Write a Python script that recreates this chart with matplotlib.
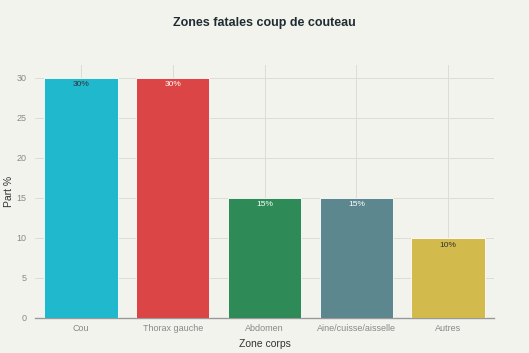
import matplotlib
matplotlib.use('Agg')
import matplotlib.pyplot as plt

zones = ['Cou', 'Thorax gauche', 'Abdomen', 'Aine/cuisse/aisselle', 'Autres']
parts = [30, 30, 15, 15, 10]
labels = ['30%', '30%', '15%', '15%', '10%']
colors = ['#1FB8CD', '#DB4545', '#2E8B57', '#5D878F', '#D2BA4C']
label_colors = ['#333333', 'white', 'white', 'white', '#333333']

bg = '#F3F3EE'
plt.rcParams['font.family'] = ['Liberation Sans', 'DejaVu Sans']

fig = plt.figure(figsize=(5.29, 3.53), dpi=100, facecolor=bg)
ax = fig.add_axes([0.0662, 0.0992, 0.8678, 0.7168], facecolor=bg)

x = range(len(zones))
ax.bar(x, parts, width=0.8, color=colors, edgecolor='white', linewidth=0.6, zorder=3)
for i, v in enumerate(parts):
    ax.text(i, v - 0.45, labels[i], ha='center', va='top', fontsize=6,
            color=label_colors[i], zorder=4)

ax.set_xlim(-0.5, len(zones) - 0.5)
ax.set_ylim(0, 31.6)
ax.set_yticks([0, 5, 10, 15, 20, 25, 30])
ax.set_xticks(list(x))
ax.set_xticklabels(zones)
ax.tick_params(axis='both', labelsize=6.5, colors='#888888', length=0, pad=4)
ax.tick_params(axis='y', pad=6)
ax.grid(True, color='#DDDDD8', linewidth=0.7, zorder=0)
for s in ['top', 'right', 'left']:
    ax.spines[s].set_visible(False)
ax.spines['bottom'].set_color('#999999')
ax.spines['bottom'].set_linewidth(1)

ax.set_xlabel('Zone corps', fontsize=7.5, color='#333333')
ax.set_ylabel('Part %', fontsize=7.5, color='#333333')
ax.xaxis.set_label_coords(0.5, -0.103)
ax.yaxis.set_label_coords(-0.056, 0.5)
ax.xaxis.label.set_va('center')
ax.yaxis.label.set_va('center')
fig.text(0.5, 0.934, 'Zones fatales coup de couteau', ha='center', va='center',
         fontsize=9, fontweight='bold', color='#1f2d33')

fig.savefig('out.png', dpi=100, facecolor=bg)
